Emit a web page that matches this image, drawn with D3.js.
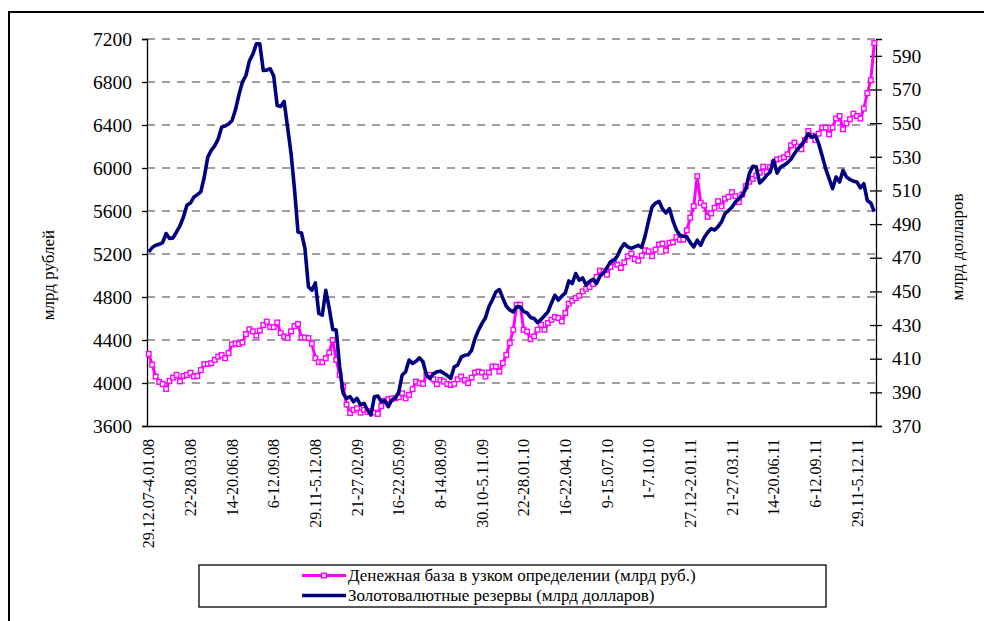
<!DOCTYPE html>
<html><head><meta charset="utf-8">
<script src="https://cdn.jsdelivr.net/npm/d3@7"></script>
<style>
html,body{margin:0;padding:0;background:#fff;}
svg text{font-family:"Liberation Serif","Times New Roman",serif;}
</style></head>
<body>
<svg id="chart" width="984" height="621"></svg>
<script>
// ---- DATA ----
const weekCount = 210;
const tickLabels = ["29.12.07-4.01.08","22-28.03.08","14-20.06.08","6-12.09.08","29.11-5.12.08",
  "21-27.02.09","16-22.05.09","8-14.08.09","30.10-5.11.09","22-28.01.10","16-22.04.10",
  "9-15.07.10","1-7.10.10","27.12-2.01.11","21-27.03.11","14-20.06.11","6-12.09.11","29.11-5.12.11"];
const tickEvery = 12;
const moneyBase = [4270,4170,4060,4010,3990,3945,4020,4050,4075,4015,4065,4075,4095,4060,4065,4120,4175,4178,4185,4215,
  4245,4260,4230,4278,4360,4370,4362,4377,4455,4500,4480,4440,4488,4540,4570,4520,4520,4563,4465,4433,
  4418,4480,4530,4548,4423,4423,4418,4365,4231,4194,4194,4231,4283,4400,4215,4075,3966,3800,3720,3750,
  3765,3725,3750,3730,3740,3725,3712,3786,3836,3849,3855,3858,3868,3905,3858,3889,3942,4013,3998,3992,
  4075,4075,4035,3989,4029,4013,3990,3982,3992,4035,4060,4029,3998,4050,4097,4106,4097,4060,4097,4153,
  4153,4106,4185,4262,4371,4495,4728,4728,4495,4479,4408,4433,4495,4542,4495,4558,4588,4614,4604,4573,
  4651,4738,4766,4791,4812,4852,4875,4893,4921,4987,5045,5039,5008,5080,5132,5100,5070,5123,5179,5204,
  5154,5138,5185,5235,5225,5179,5241,5288,5297,5232,5304,5309,5356,5334,5334,5421,5537,5645,5924,5676,
  5651,5546,5577,5630,5691,5645,5714,5732,5775,5738,5682,5754,5831,5872,5900,5930,5956,6012,5962,6010,
  6049,6080,6087,6100,6127,6211,6236,6200,6174,6260,6344,6300,6260,6320,6376,6376,6313,6376,6460,6484,
  6360,6416,6453,6506,6484,6460,6553,6696,6817,7162];
const reserves = [473.4,476.1,477.4,478,479,484.4,481.4,481.8,485.3,489,494.2,501.2,502.5,506,507.5,509.1,518,529.8,533.8,536.5,
  540.5,547.6,548.3,549.5,551.6,558,567,574.5,578.3,587,591,597.1,597.1,581.3,581.5,582.3,578,560.5,559.9,562.9,
  547.6,532,510.5,485.3,484.7,475.5,452.7,450.7,455,436.9,435.9,450.7,439.9,427.4,427,405.2,389.4,386.4,387.4,384.4,
  386.4,382.5,383.5,379.5,376.5,387.4,387.8,384.4,385,381.5,385.4,386.5,390,400.3,402.2,409.2,407.2,408.5,410.5,408.2,
  400.3,398.3,401,402.2,402.6,401.3,400,398.3,405.2,406.2,410.9,412,412.3,415,422,427,431,434.3,441,445,
  449.7,451.1,446,441.2,439,437.8,440.8,440.8,438,437.2,434.5,433.9,431.5,433.3,435.5,437.8,443,447.7,444.8,447.2,
  449.1,456.2,454.7,460.6,456.7,458,453.7,456,457.1,454.7,459,461,464,467.5,468.5,471,475.5,478.4,476.5,475.5,
  476.5,477.4,476.1,483,492,500.2,502.5,503.5,499,496.6,499.2,492,486.5,483.4,482.8,482.4,479,476.4,480.4,477.4,
  482,485,487.3,486.5,488.5,491.3,496.2,498,500,503.1,505,507.1,511,520,524.3,524,514.4,516.4,519,520.9,
  527.9,520.3,523.9,525,526.5,528.5,531.9,534.8,537,540,543.7,541.7,542.7,537.8,530.5,523,517,511.1,518,515,
  521.9,518,516.5,515.5,515,511.5,514,504,502.5,497.5];
const leftTicks = [3600,4000,4400,4800,5200,5600,6000,6400,6800,7200];
const rightTicks = [370,390,410,430,450,470,490,510,530,550,570,590];
const seriesNames = ["Денежная база в узком определении (млрд руб.)","Золотовалютные резервы (млрд долларов)"];
const colors = ["#FF00FF","#000080"];

// ---- LAYOUT ----
const FONT = "'Liberation Serif', 'Times New Roman', serif";
const svg = d3.select("#chart");
const L = 147, R = 876, T = 39, B = 426;

// outer frame
svg.append("rect").attr("x",9).attr("y",12).attr("width",1000).attr("height",700)
  .attr("fill","none").attr("stroke","#000").attr("stroke-width",2);

const idx = d3.range(weekCount);
const x = d3.scaleBand().domain(idx).range([L, R]).padding(0);
const xc = i => x(i) + x.bandwidth()/2;
const yL = d3.scaleLinear().domain([3600,7200]).range([B,T]);
const yR = d3.scaleLinear().domain([370,600]).range([B,T]);

// gridlines
svg.append("g").selectAll("line").data(leftTicks.filter(v=>v>3600)).join("line")
  .attr("x1",L).attr("x2",R).attr("y1",d=>yL(d)).attr("y2",d=>yL(d))
  .attr("stroke","#808080").attr("stroke-width",1.6).attr("stroke-dasharray","8,7");

// left axis
const gL = svg.append("g").attr("transform",`translate(${L},0)`)
  .call(d3.axisLeft(yL).tickValues(leftTicks).tickSize(5).tickPadding(10).tickFormat(d3.format("d")));
gL.attr("font-family",null);
gL.select(".domain").attr("stroke","#000").attr("stroke-width",1.3);
gL.selectAll(".tick line").attr("stroke","#000").attr("stroke-width",1.3);
gL.selectAll("text").style("font-family",FONT).attr("font-size",19.5).attr("fill","#000");

// right axis
const gR = svg.append("g").attr("transform",`translate(${R},0)`)
  .call(d3.axisRight(yR).tickValues(rightTicks).tickSize(6).tickPadding(10).tickFormat(d3.format("d")));
gR.attr("font-family",null);
gR.select(".domain").attr("stroke","#000").attr("stroke-width",1.3);
gR.selectAll(".tick line").attr("x1",-6).attr("stroke","#000").attr("stroke-width",1.3);
gR.selectAll("text").style("font-family",FONT).attr("font-size",19.5).attr("fill","#000");

// bottom axis
const tickIdx = tickLabels.map((_,k)=>k*tickEvery);
const gB = svg.append("g").attr("transform",`translate(0,${B})`)
  .call(d3.axisBottom(x).tickValues(tickIdx).tickSize(0).tickFormat(i=>tickLabels[i/tickEvery]));
gB.attr("font-family",null);
gB.select(".domain").attr("stroke","#000").attr("stroke-width",1.3);
gB.selectAll("text").style("font-family",FONT).attr("font-size",16).attr("fill","#000")
  .attr("text-anchor","end").attr("transform","rotate(-90)").attr("x",-13).attr("y",0).attr("dy","0.35em");

// lines
const lineL = d3.line().x((d,i)=>xc(i)).y(d=>yL(d));
const lineR = d3.line().x((d,i)=>xc(i)).y(d=>yR(d));
svg.append("path").datum(moneyBase).attr("d",lineL).attr("fill","none")
  .attr("stroke",colors[0]).attr("stroke-width",3).attr("stroke-linejoin","round");
svg.append("g").selectAll("rect").data(moneyBase).join("rect")
  .attr("x",(d,i)=>xc(i)-2.3).attr("y",d=>yL(d)-2.3).attr("width",4.6).attr("height",4.6)
  .attr("fill","#fff").attr("stroke",colors[0]).attr("stroke-width",1.4);
svg.append("path").datum(reserves).attr("d",lineR).attr("fill","none")
  .attr("stroke",colors[1]).attr("stroke-width",3.6).attr("stroke-linejoin","round");

// axis titles
svg.append("text").attr("transform","translate(54,275) rotate(-90)").attr("text-anchor","middle")
  .style("font-family",FONT).attr("font-size",17).attr("fill","#000").text("млрд рублей");
svg.append("text").attr("transform","translate(963,247) rotate(-90)").attr("text-anchor","middle")
  .style("font-family",FONT).attr("font-size",17).attr("fill","#000").text("млрд долларов");

// legend
const lg = svg.append("g");
lg.append("rect").attr("x",199).attr("y",565).attr("width",627).attr("height",42)
  .attr("fill","#fff").attr("stroke","#000").attr("stroke-width",1.3);
[575.5,595.5].forEach((yy,k)=>{
  lg.append("line").attr("x1",302).attr("x2",346).attr("y1",yy).attr("y2",yy)
    .attr("stroke",colors[k]).attr("stroke-width",k?3.6:3);
  if(k===0) lg.append("rect").attr("x",324-2.3).attr("y",yy-2.3).attr("width",4.6).attr("height",4.6)
    .attr("fill","#fff").attr("stroke",colors[0]).attr("stroke-width",1.4);
  lg.append("text").attr("x",348).attr("y",yy).attr("dy","0.35em").attr("font-size",17)
    .style("font-family",FONT).attr("fill","#000").text(seriesNames[k]);
});
</script>
</body></html>
